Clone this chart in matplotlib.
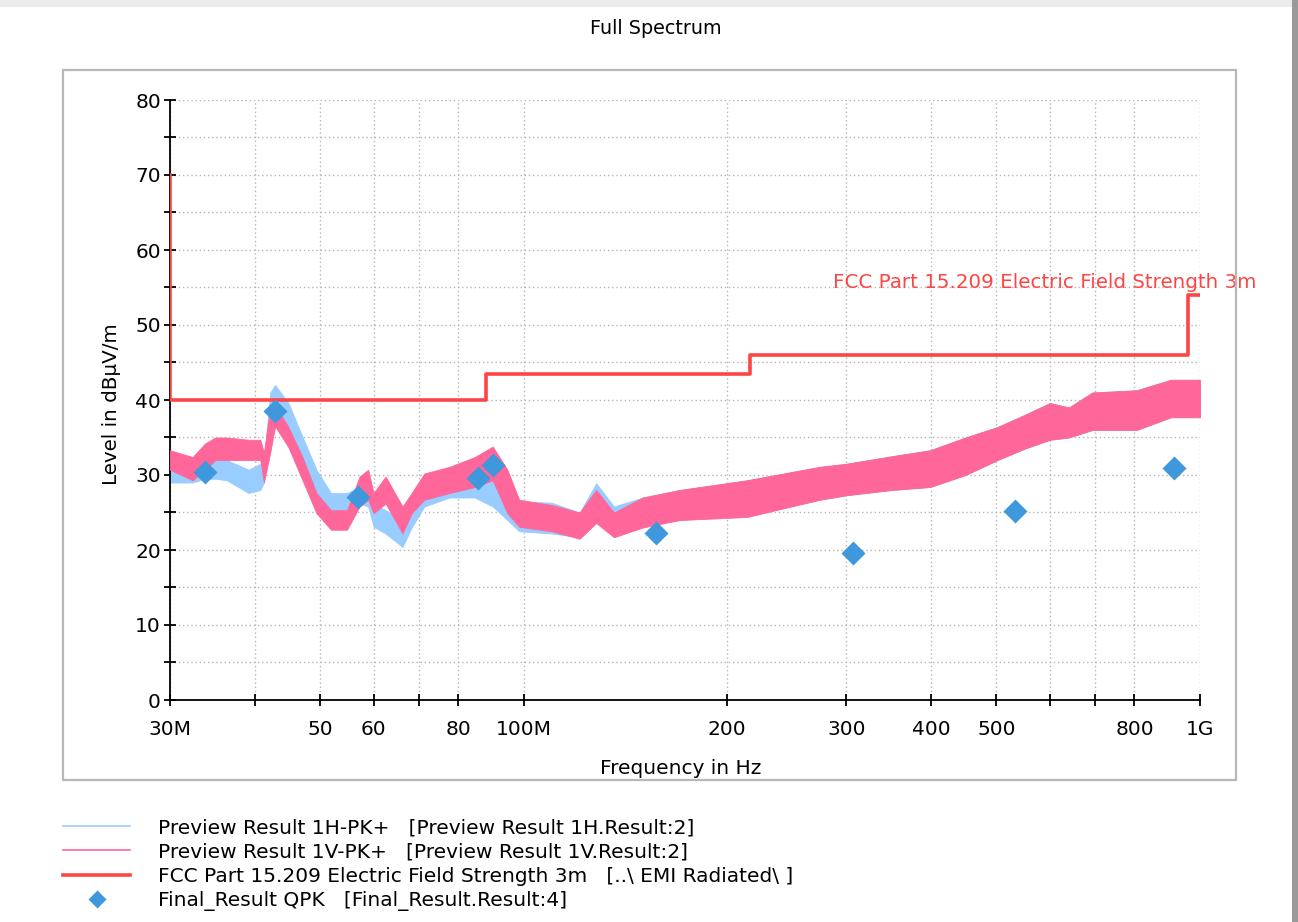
import matplotlib
matplotlib.use("Agg")
import matplotlib.pyplot as plt
from matplotlib.patches import Rectangle
from matplotlib.ticker import FixedLocator, FixedFormatter, MultipleLocator, NullLocator
import numpy as np

plt.rcParams['font.family'] = ['DejaVu Sans']

# spectrum envelopes (MHz, dBuV/m)
freq_mhz = [30, 32.4, 33.8, 35, 36.4, 39.2, 40.8, 41.3, 42.2, 42.9, 44.9, 47.1, 49.4,
            51.9, 54.8, 57.2, 58.9, 60, 62.5, 66.2, 68.3, 71.3, 77.7, 84.7, 90, 94.6,
            98.5, 110, 121, 128, 136, 150, 170, 214, 274, 300, 350, 399, 450, 502,
            550, 600, 640, 693, 806, 906, 1000]
v_low = [30.7, 29.3, 30.7, 32, 32, 32, 32, 29, 33, 36.5, 33.7, 29.3, 24.9,
         22.7, 22.7, 25.8, 26.7, 24.9, 26.2, 22.2, 24.9, 26.7, 27.6, 28.4, 29.3, 24.9,
         23.1, 22.5, 21.5, 23.6, 21.7, 23, 24, 24.4, 26.7, 27.3, 28, 28.4, 30, 32,
         33.5, 34.7, 35, 36, 36, 37.7, 37.7]
v_high = [33.3, 32.4, 34.2, 35, 35, 34.7, 34.7, 33, 39, 39.3, 36.4, 32.4, 27.6,
          25.3, 25.3, 29.8, 30.7, 27.6, 29.8, 25.8, 27.6, 30.2, 31.1, 32.4, 33.8, 30.7,
          26.7, 26, 25, 28, 25, 27, 28, 29.3, 31.1, 31.5, 32.5, 33.3, 35, 36.4,
          38, 39.6, 39, 41, 41.3, 42.7, 42.7]
h_low = [29, 29, 29.5, 29.5, 29.3, 27.6, 28, 29, 36, 38, 36.4, 32, 27.6,
         24.9, 24.9, 26.2, 25.8, 23.1, 22.2, 20.4, 23, 25.8, 27, 27, 25.8, 24,
         22.5, 22.2, 21.7, 24, 22, 23.2, 24, 24.6, 26.7, 27.3, 28, 28.4, 30, 32,
         33.5, 34.7, 35, 36, 36, 37.7, 37.7]
h_high = [32.4, 31.5, 31.5, 32, 32, 30.7, 31.5, 32, 41, 42, 39.6, 35.1, 30.7,
          27.6, 27.6, 28.4, 28.4, 26.2, 25.3, 24, 26, 27.6, 29.3, 30.5, 30.7, 29,
          26.5, 26.3, 25, 28.9, 25.8, 27, 28, 29.3, 31, 31.5, 32.5, 33.3, 35, 36.4,
          38, 39.6, 39, 41, 41.3, 42.7, 42.7]

# FCC Part 15.209 limit (3 m)
limit_mhz = [30, 30, 88, 88, 216, 216, 960, 960, 1000]
limit_db = [70, 40, 40, 43.5, 43.5, 46, 46, 54, 54]

# final quasi-peak results
qpk_mhz = [33.8, 42.9, 56.9, 85.6, 90.1, 157, 307, 533, 915.6]
qpk_db = [30.4, 38.5, 27.1, 29.6, 31.3, 22.3, 19.6, 25.2, 30.9]

tick_mhz = [30, 40, 50, 60, 70, 80, 100, 200, 300, 400, 500, 600, 700, 800, 1000]
tick_labels = ['30M', '', '50', '60', '', '80', '100M', '200', '300', '400', '500', '', '', '800', '1G']

blue = '#99ccff'
pink = '#ff6699'
red = '#ff4444'
dia = '#3f97dc'

fig = plt.figure(figsize=(12.98, 9.22), dpi=100)
W, H = 1298.0, 922.0

# window decoration and panel frame
fig.add_artist(Rectangle((0, 1 - 7 / H), 1, 7 / H, transform=fig.transFigure,
                         facecolor='#ececec', edgecolor='none'))
fig.add_artist(Rectangle((1292 / W, 0), 6 / W, 1, transform=fig.transFigure,
                         facecolor='#9a9a9a', edgecolor='none'))
fig.add_artist(Rectangle((63 / W, 1 - 780 / H), (1236 - 63) / W, (780 - 70) / H,
                         transform=fig.transFigure, facecolor='none',
                         edgecolor='#b8b8b8', lw=1.6))

ax = fig.add_axes([170 / W, 1 - 700 / H, 1030 / W, 600 / H])

f = np.array(freq_mhz) * 1e6
ax.fill_between(f, h_low, h_high, color=blue, lw=0.6, zorder=2)
ax.fill_between(f, v_low, v_high, color=pink, lw=0.6, zorder=3)
lim_line, = ax.plot(np.array(limit_mhz) * 1e6, limit_db, color=red, lw=2.6, zorder=4)
qpk_pts, = ax.plot(np.array(qpk_mhz) * 1e6, qpk_db, 'D', color=dia, ms=12, mec='none', zorder=5)

ax.set_xscale('log')
ax.set_xlim(30e6, 1000e6)
ax.set_ylim(0, 80)
ax.xaxis.set_major_locator(FixedLocator(np.array(tick_mhz) * 1e6))
ax.xaxis.set_major_formatter(FixedFormatter(tick_labels))
ax.xaxis.set_minor_locator(NullLocator())
ax.yaxis.set_major_locator(MultipleLocator(10))
ax.yaxis.set_minor_locator(MultipleLocator(5))

ax.grid(True, which='both', linestyle=(0, (1, 2)), color='#b5b5b5', lw=1.0)
ax.set_axisbelow(True)
for s in ['top', 'right']:
    ax.spines[s].set_visible(False)
for s in ['left', 'bottom']:
    ax.spines[s].set_linewidth(1.3)
ax.tick_params(which='both', direction='inout', length=9, width=1.3, labelsize=14.5)
ax.tick_params(axis='x', pad=10)
ax.tick_params(axis='y', pad=2)

ax.set_xlabel('Frequency in Hz', fontsize=14.5)
ax.set_ylabel('Level in dBµV/m', fontsize=14.3)
ax.xaxis.set_label_coords((681 - 170) / 1030, (700 - 759) / 600)
ax.yaxis.set_label_coords((121 - 170) / 1030, (700 - 404) / 600)
fig.text(656 / W, 1 - 29 / H, 'Full Spectrum', ha='center', va='center', fontsize=13.8)

ax.text(287e6, 55.6, 'FCC Part 15.209 Electric Field Strength 3m', color=red,
        fontsize=14.3, va='center', ha='left', clip_on=False)

# legend lines use the plotted artists' styles
h_line, = ax.plot([], [], color=blue, lw=1.2)
v_line, = ax.plot([], [], color=pink, lw=1.2)
labels = ['Preview Result 1H-PK+   [Preview Result 1H.Result:2]',
          'Preview Result 1V-PK+   [Preview Result 1V.Result:2]',
          'FCC Part 15.209 Electric Field Strength 3m   [..\\ EMI Radiated\\ ]',
          'Final_Result QPK   [Final_Result.Result:4]']
fig.legend([h_line, v_line, lim_line, qpk_pts], labels, loc='upper left',
           bbox_to_anchor=(63 / W, 1 - 818 / H), frameon=False, fontsize=14.5,
           handlelength=3.33, handletextpad=1.4, labelspacing=0.27,
           borderpad=0, borderaxespad=0, markerscale=0.75)

fig.savefig('out.png', dpi=100)
